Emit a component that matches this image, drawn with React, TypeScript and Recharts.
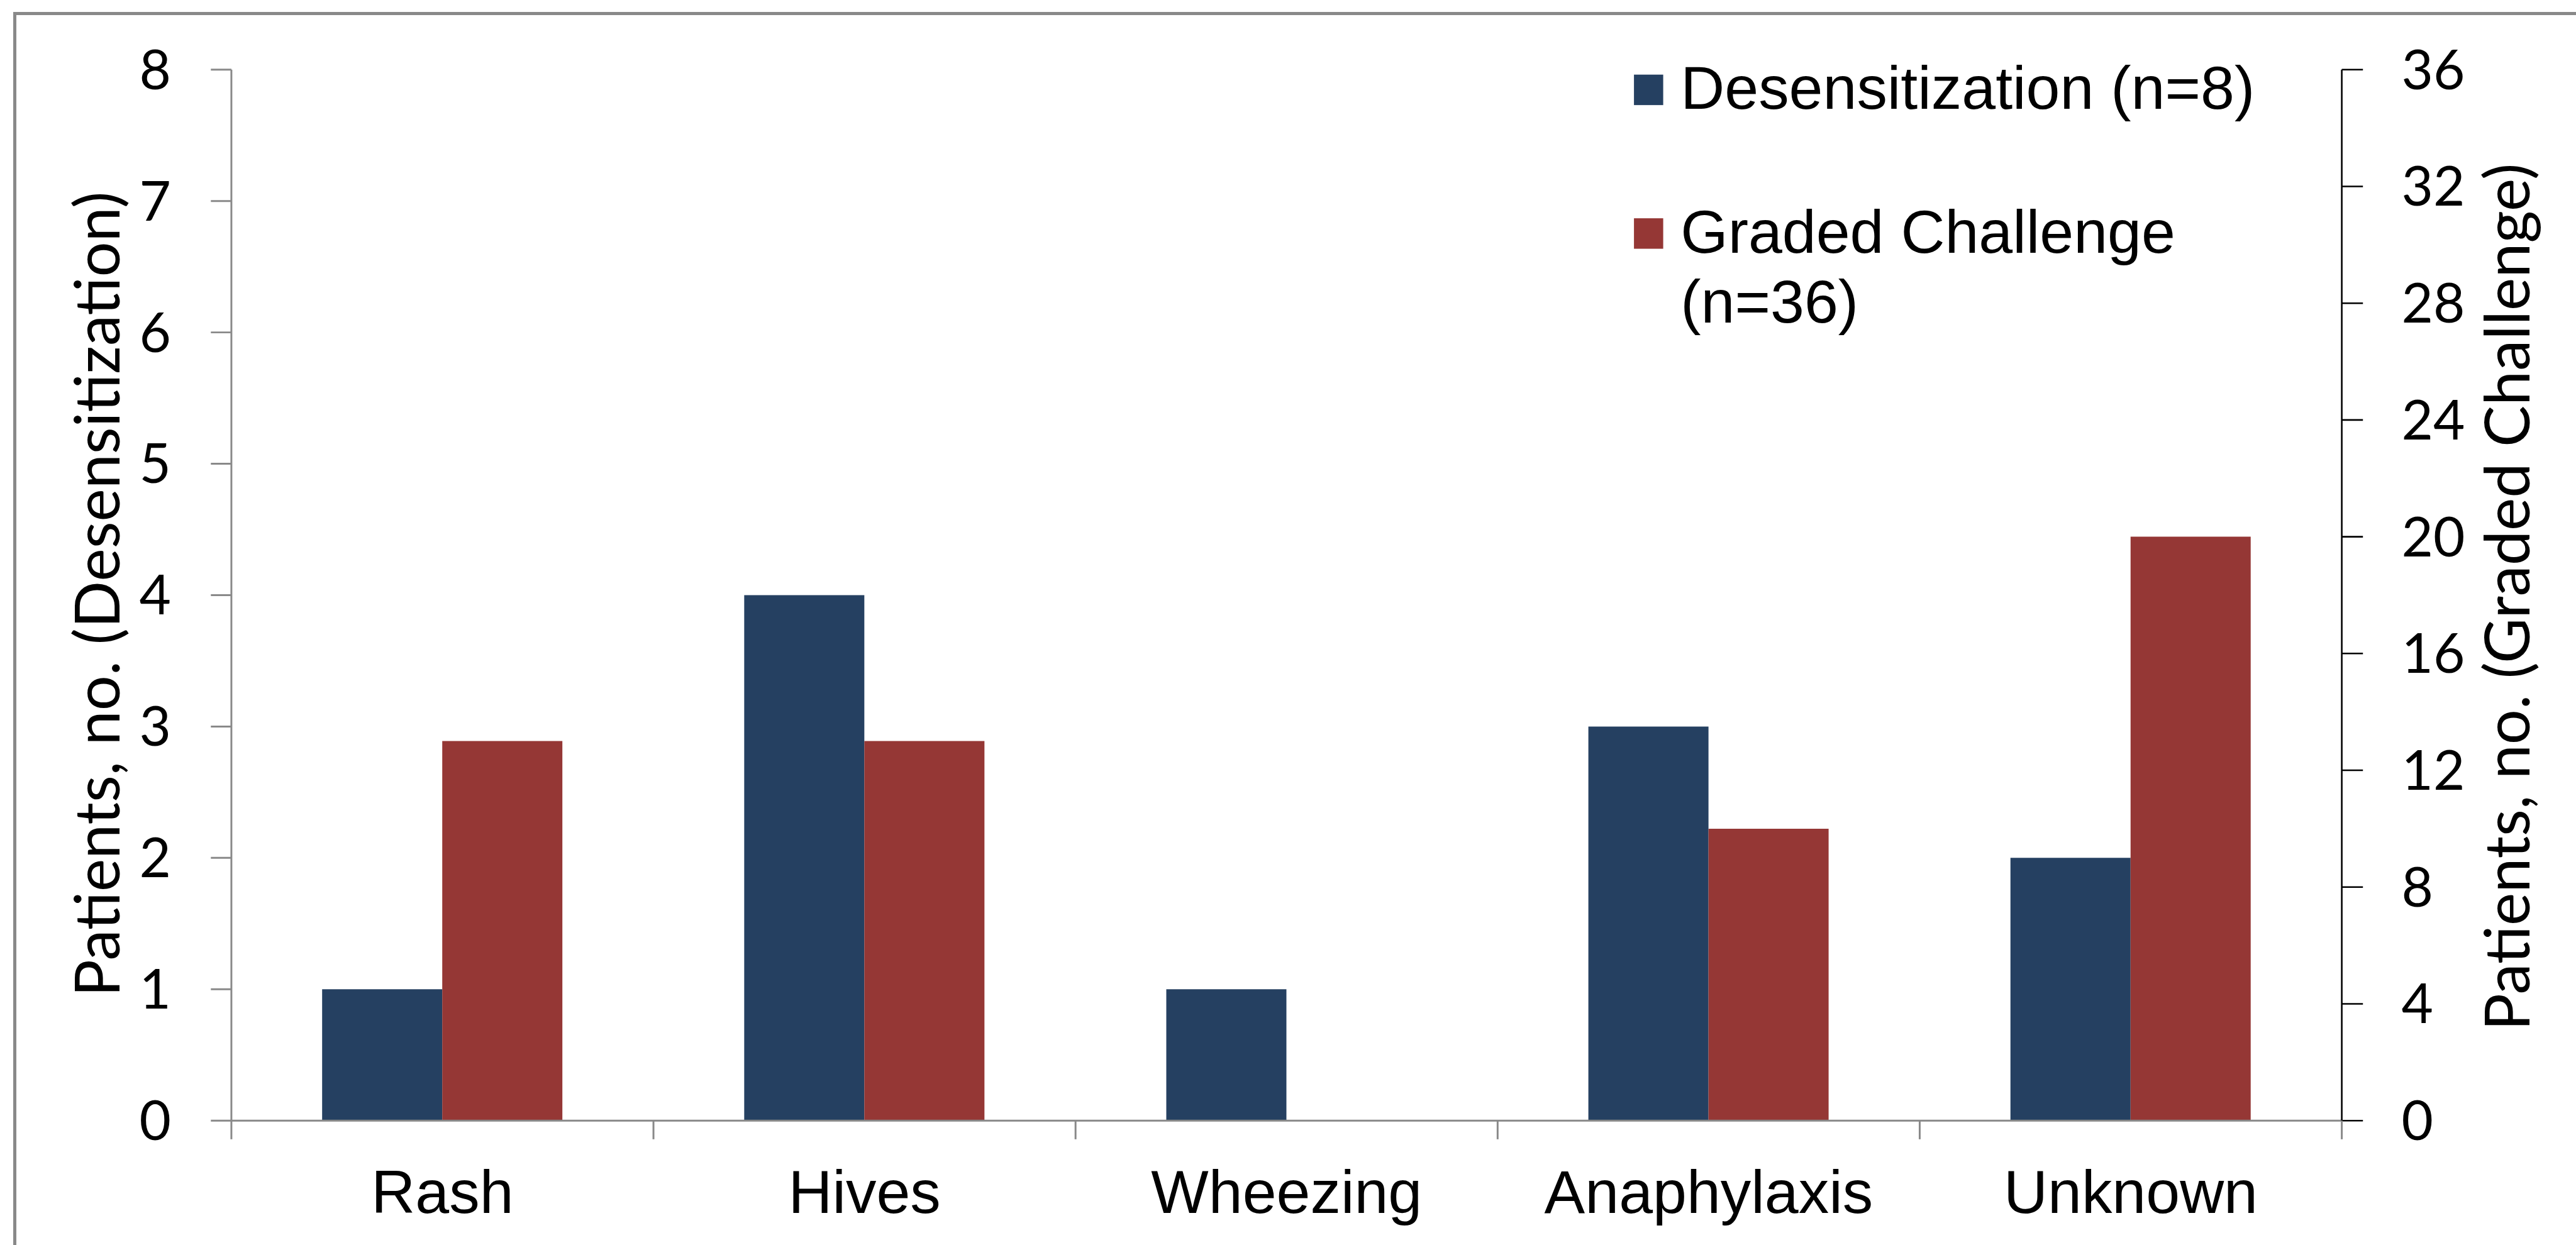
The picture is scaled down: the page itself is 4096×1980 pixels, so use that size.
import React from 'react';
import { BarChart, Bar, XAxis, YAxis, Legend } from 'recharts';

const S = 0.989;
const W = 4096;
const H = 1980;

const categories = ['Rash', 'Hives', 'Wheezing', 'Anaphylaxis', 'Unknown'];
const desensitization = [1, 4, 1, 3, 2];
const gradedChallenge = [13, 13, 0, 10, 20];
const leftTicks = [0, 1, 2, 3, 4, 5, 6, 7, 8];
const rightTicks = [0, 4, 8, 12, 16, 20, 24, 28, 32, 36];
const seriesNames = ['Desensitization (n=8)', 'Graded Challenge (n=36)'];
const seriesColors = ['#254061', '#953735'];
const leftTitle = 'Patients, no. (Desensitization)';
const rightTitle = 'Patients, no. (Graded Challenge)';

const data = categories.map((name, i) => ({
  name,
  desens: desensitization[i],
  graded: gradedChallenge[i],
}));

// plot box in page pixels
const PLOT_LEFT = 372 * S;
const PLOT_RIGHT = 3765 * S;
const PLOT_TOP = 112 * S;
const PLOT_BOTTOM = 1802 * S;
const band = (PLOT_RIGHT - PLOT_LEFT) / categories.length;

const GREY = '#898989';
const TICK_FONT = 'Lato, "DejaVu Sans", sans-serif';
const TEXT_FONT = '"Liberation Sans", Arial, sans-serif';

const CategoryTick = (props: any) => {
  const { x, payload, index } = props;
  const tickLen = 30 * S;
  return (
    <g>
      <line x1={x - band / 2} x2={x - band / 2} y1={PLOT_BOTTOM} y2={PLOT_BOTTOM + tickLen} stroke={GREY} strokeWidth={3 * S} />
      {index === categories.length - 1 && (
        <line x1={x + band / 2} x2={x + band / 2} y1={PLOT_BOTTOM} y2={PLOT_BOTTOM + tickLen} stroke={GREY} strokeWidth={3 * S} />
      )}
      <text x={x} y={1950 * S} textAnchor="middle" fontFamily={TEXT_FONT} fontSize={98 * S} fill="#000">
        {payload.value}
      </text>
    </g>
  );
};

const wrapLabel = (s: string) => {
  if (s.length <= 21) return [s];
  const cut = s.lastIndexOf(' ');
  return [s.slice(0, cut), s.slice(cut + 1)];
};

const LEG_X = 2560;
const LEG_Y = 60;

const LegendContent = (props: any) => {
  const items = (props.payload && props.payload.length
    ? props.payload.map((p: any) => ({ value: p.value, color: p.color }))
    : seriesNames.map((n, i) => ({ value: n, color: seriesColors[i] })));
  const rowStep = 231 * S;
  return (
    <svg width={1150} height={520} style={{ overflow: 'visible' }}>
      {items.map((it: any, i: number) => {
        const base = 175 * S + i * rowStep - LEG_Y;
        const lines = wrapLabel(it.value);
        return (
          <g key={it.value}>
            <rect x={2627 * S - LEG_X} y={base - 55 * S} width={47 * S} height={49 * S} fill={it.color} />
            {lines.map((ln, j) => (
              <text key={j} x={2702 * S - LEG_X} y={base + j * 112.6 * S} fontFamily={TEXT_FONT} fontSize={98 * S} fill="#000">
                {ln}
              </text>
            ))}
          </g>
        );
      })}
    </svg>
  );
};

export default function App() {
  const titleSize = 100 * S;
  return (
    <div style={{ position: 'absolute', left: 0, top: 0, width: W, height: H, background: '#fff', overflow: 'hidden' }}>
      <div
        style={{
          position: 'absolute',
          left: 21.3 * S,
          top: 19.2 * S,
          width: W,
          height: H,
          borderLeft: `${5.4 * S}px solid ${GREY}`,
          borderTop: `${5.6 * S}px solid ${GREY}`,
          boxSizing: 'border-box',
        }}
      />
      <BarChart
        width={W}
        height={H}
        data={data}
        margin={{ top: PLOT_TOP, right: 0, bottom: 0, left: 0 }}
        barCategoryGap="21.5%"
        barGap={0}
        style={{ position: 'absolute', left: 0, top: 0 }}
      >
        <XAxis
          dataKey="name"
          interval={0}
          height={H - PLOT_BOTTOM}
          tickLine={false}
          axisLine={{ stroke: GREY, strokeWidth: 3 * S }}
          tick={<CategoryTick />}
        />
        <YAxis
          yAxisId="left"
          width={PLOT_LEFT}
          domain={[0, 8]}
          ticks={leftTicks}
          interval={0}
          axisLine={{ stroke: GREY, strokeWidth: 3 * S }}
          tickLine={{ stroke: GREY, strokeWidth: 3 * S }}
          tickSize={33 * S}
          tickMargin={64 * S}
          tick={{ fill: '#000', fontFamily: TICK_FONT, fontSize: 88 * S }}
        />
        <YAxis
          yAxisId="right"
          orientation="right"
          width={W - PLOT_RIGHT}
          domain={[0, 36]}
          ticks={rightTicks}
          interval={0}
          axisLine={{ stroke: '#000', strokeWidth: 2.6 * S }}
          tickLine={{ stroke: '#000', strokeWidth: 2.6 * S }}
          tickSize={34 * S}
          tickMargin={62 * S}
          tick={{ fill: '#000', fontFamily: TICK_FONT, fontSize: 88 * S }}
        />
        <Legend
          layout="vertical"
          align="center"
          verticalAlign="middle"
          content={<LegendContent />}
          wrapperStyle={{ position: 'absolute', left: LEG_X, top: LEG_Y, width: 1150, height: 520 }}
        />
        <Bar yAxisId="left" dataKey="desens" name={seriesNames[0]} fill={seriesColors[0]} isAnimationActive={false} />
        <Bar yAxisId="right" dataKey="graded" name={seriesNames[1]} fill={seriesColors[1]} isAnimationActive={false} />
      </BarChart>
      <svg width={W} height={H} style={{ position: 'absolute', left: 0, top: 0, pointerEvents: 'none' }}>
        <text
          transform={`translate(${192 * S}, ${955.5 * S}) rotate(-90)`}
          textAnchor="middle"
          fontFamily={TICK_FONT}
          fontSize={titleSize}
          fill="#000"
        >
          {leftTitle}
        </text>
        <text
          transform={`translate(${4067 * S}, ${960 * S}) rotate(-90)`}
          textAnchor="middle"
          fontFamily={TICK_FONT}
          fontSize={titleSize}
          fill="#000"
        >
          {rightTitle}
        </text>
      </svg>
    </div>
  );
}
